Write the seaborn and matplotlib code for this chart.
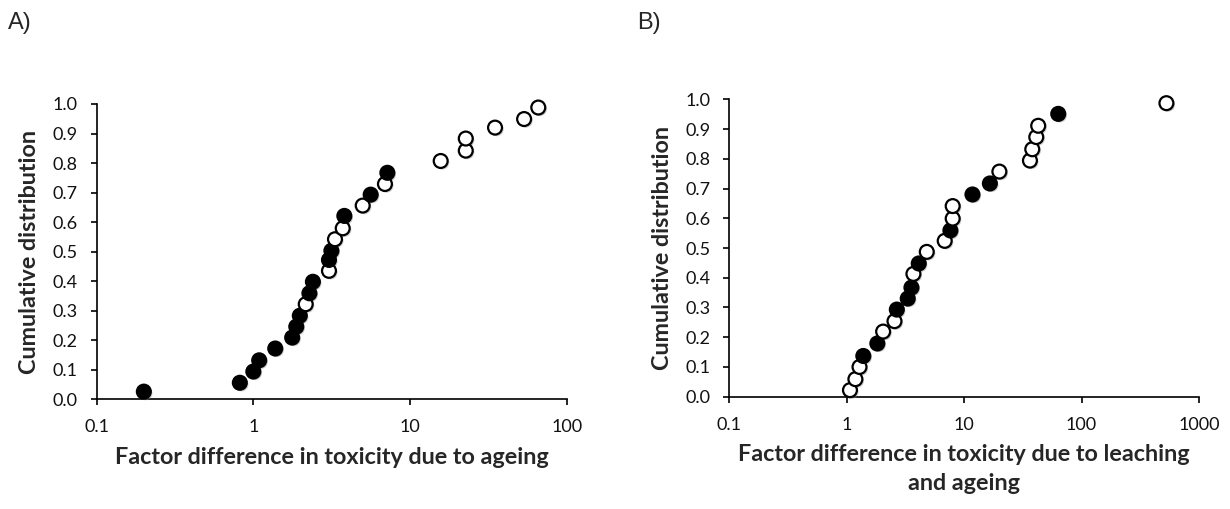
import numpy as np
import pandas as pd
import matplotlib
matplotlib.use("Agg")
import matplotlib.pyplot as plt
import matplotlib.patheffects as pe
import seaborn as sns

# Panel A: factor difference due to ageing
a_factor = [0.20, 0.82, 1.00, 1.09, 1.38, 1.77, 1.88, 1.98, 2.16, 2.28, 2.40, 3.04, 3.04, 3.15,
            3.32, 3.72, 3.81, 4.99, 5.61, 6.92, 7.17, 15.7, 22.7, 22.7, 34.9, 53.5, 65.9]
a_cum = [0.026, 0.056, 0.094, 0.132, 0.172, 0.209, 0.246, 0.283, 0.322, 0.359, 0.398, 0.435, 0.472, 0.503,
         0.542, 0.579, 0.621, 0.656, 0.693, 0.729, 0.767, 0.807, 0.842, 0.883, 0.920, 0.949, 0.988]
a_type = ["filled"] * 8 + ["open", "filled", "filled", "open", "filled", "filled",
          "open", "open", "filled", "open", "filled", "open", "filled"] + ["open"] * 6

# Panel B: factor difference due to leaching and ageing
b_factor = [1.07, 1.19, 1.29, 1.39, 1.83, 2.05, 2.56, 2.68, 3.32, 3.57, 3.71, 4.12, 4.82,
            6.85, 7.66, 8.01, 8.01, 11.8, 16.6, 20.0, 36.4, 38.1, 41.2, 42.8, 63.4, 528]
b_cum = [0.022, 0.059, 0.100, 0.137, 0.179, 0.219, 0.254, 0.293, 0.330, 0.367, 0.413, 0.448, 0.487,
         0.524, 0.559, 0.599, 0.641, 0.680, 0.717, 0.757, 0.794, 0.832, 0.873, 0.911, 0.951, 0.987]
b_type = ["open", "open", "open", "filled", "filled", "open", "open", "filled", "filled", "filled",
          "open", "filled", "open", "open", "filled", "open", "open", "filled", "filled", "open",
          "open", "open", "open", "open", "filled", "open"]

sns.set_theme(style="white")
plt.rcParams['font.family'] = ['Lato', 'DejaVu Sans']

fig = plt.figure(figsize=(12.3, 5.09), dpi=100)
ax_a = fig.add_axes([0.0786, 0.2155, 0.3821, 0.5802])
ax_b = fig.add_axes([0.5927, 0.2206, 0.3821, 0.5843])

palette = {"filled": "black", "open": "white"}
shadow = [pe.SimplePatchShadow(offset=(1.2, -1.2), shadow_rgbFace=(0.5, 0.5, 0.5), alpha=0.4), pe.Normal()]

panels = [
    (ax_a, a_factor, a_cum, a_type, (0.1, 100), [0.1, 1, 10, 100],
     "Factor difference in toxicity due to ageing"),
    (ax_b, b_factor, b_cum, b_type, (0.1, 1000), [0.1, 1, 10, 100, 1000],
     "Factor difference in toxicity due to leaching\nand ageing"),
]

for ax, xs, ys, kinds, xlim, xticks, xlabel in panels:
    df = pd.DataFrame({"factor": xs, "cum": ys, "kind": kinds})
    sns.scatterplot(data=df, x="factor", y="cum", hue="kind", palette=palette, ax=ax,
                    s=100, edgecolor="black", linewidth=1.6, legend=False, zorder=3,
                    path_effects=shadow, clip_on=False)
    ax.set_xscale("log")
    ax.set_xlim(*xlim)
    ax.set_ylim(0, 1.0)
    ax.set_xticks(xticks)
    ax.set_xticklabels([("%g" % t) for t in xticks])
    ax.minorticks_off()
    ax.set_yticks(np.arange(0, 1.01, 0.1))
    ax.set_yticklabels(["%.1f" % t for t in np.arange(0, 1.01, 0.1)])
    for side in ["top", "right"]:
        ax.spines[side].set_visible(False)
    for side in ["left", "bottom"]:
        ax.spines[side].set_color("black")
        ax.spines[side].set_linewidth(1.2)
    ax.tick_params(axis="both", direction="out", length=4.5, width=1.2, color="black",
                   labelsize=13, labelcolor="#111111", left=True, bottom=True)
    ax.tick_params(axis="y", pad=9)
    ax.tick_params(axis="x", pad=10)
    ax.set_xlabel(xlabel, fontsize=16.8, fontweight="bold", labelpad=8, linespacing=1.45)
    ax.set_ylabel("Cumulative distribution", fontsize=16.8, fontweight="bold", labelpad=9)
    ax.grid(False)

fig.text(0.0065, 0.955, "A)", fontsize=17, family="Liberation Sans", va="center")
fig.text(0.518, 0.955, "B)", fontsize=17, family="Liberation Sans", va="center")

fig.savefig("out.png", dpi=100)
